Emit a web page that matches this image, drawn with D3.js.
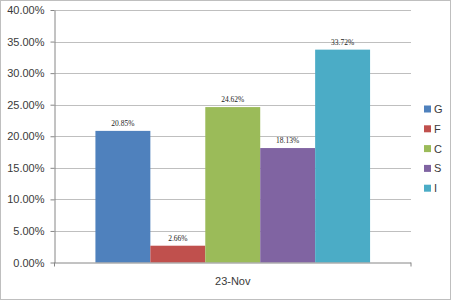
<!DOCTYPE html>
<html><head><meta charset="utf-8">
<script src="https://cdn.jsdelivr.net/npm/d3@7"></script>
<style>body{margin:0;background:#fff}svg{display:block}</style>
</head><body><svg id="c" width="451" height="300"></svg>
<script>
const categories = ["23-Nov"];
const seriesNames = ["G","F","C","S","I"];
const seriesValues = [20.85, 2.66, 24.62, 18.13, 33.72];
const seriesColors = ["#4F81BD","#C0504D","#9BBB59","#8064A2","#4BACC6"];
const yTicks = [0,5,10,15,20,25,30,35,40];

(function(){
const svg = d3.select("#c");
const font = "Liberation Sans, Arial, sans-serif";
svg.append("rect").attr("x",0.5).attr("y",0.5).attr("width",450).attr("height",299)
  .attr("fill","#fff").attr("stroke","#BFBFBF");

const pLeft=54.5, pRight=411, pTop=10, pBottom=262.5;
const y = d3.scaleLinear().domain([0,40]).range([pBottom, pTop]);
const x0 = d3.scaleBand().domain(categories).range([pLeft,pRight]).paddingInner(0).paddingOuter(0.149);
const x1 = d3.scaleBand().domain(seriesNames).range([0,x0.bandwidth()]);

// gridlines
svg.append("g").selectAll("line").data(yTicks.filter(d=>d>0)).join("line")
  .attr("x1",pLeft).attr("x2",pRight).attr("y1",d=>Math.round(y(d))+0.5).attr("y2",d=>Math.round(y(d))+0.5)
  .attr("stroke","#BFBFBF").attr("stroke-width",1);

// y axis
const ya = svg.append("g").attr("transform",`translate(${pLeft},0)`)
  .call(d3.axisLeft(y).tickValues(yTicks).tickFormat(d=>d.toFixed(2)+"%").tickSize(4).tickSizeOuter(0).tickPadding(6));
ya.select(".domain").attr("stroke","#868686");
ya.selectAll(".tick line").attr("stroke","#868686");
ya.selectAll("text").attr("font-family",font).attr("font-size","11px").attr("fill","#3a3a3a");

// bars
const g = svg.append("g");
categories.forEach(cat=>{
  seriesNames.forEach((s,i)=>{
    const bx = x0(cat)+x1(s), bw = x1.bandwidth(), v = seriesValues[i];
    g.append("rect").attr("x",bx).attr("y",y(v)).attr("width",bw).attr("height",y(0)-y(v))
      .attr("fill",seriesColors[i]);
    g.append("text").attr("x",bx+bw/2).attr("y",y(v)-5).attr("text-anchor","middle")
      .attr("font-family","Liberation Serif, Times New Roman, serif").attr("font-size","7.5px").attr("fill","#222")
      .text(v.toFixed(2)+"%");
  });
});

// x axis
const xa = svg.append("g").attr("transform",`translate(0,${pBottom})`)
  .call(d3.axisBottom(x0).tickSize(0).tickPadding(15));
xa.select(".domain").attr("stroke","#868686").attr("d",`M${pLeft},0.5H${pRight}`);
xa.selectAll("text").attr("font-family",font).attr("font-size","11px").attr("fill","#3a3a3a");
[pLeft,pRight].forEach(px=>svg.append("line").attr("x1",px).attr("x2",px).attr("y1",pBottom).attr("y2",pBottom+4).attr("stroke","#868686"));

// legend
const lg = svg.append("g");
seriesNames.forEach((s,i)=>{
  const ly = 109 + i*19.8;
  lg.append("rect").attr("x",424).attr("y",ly-3.5).attr("width",7).attr("height",7).attr("fill",seriesColors[i]);
  lg.append("text").attr("x",434).attr("y",ly+4).attr("font-family",font).attr("font-size","11px").attr("fill","#3a3a3a").text(s);
});
})();
</script></body></html>
